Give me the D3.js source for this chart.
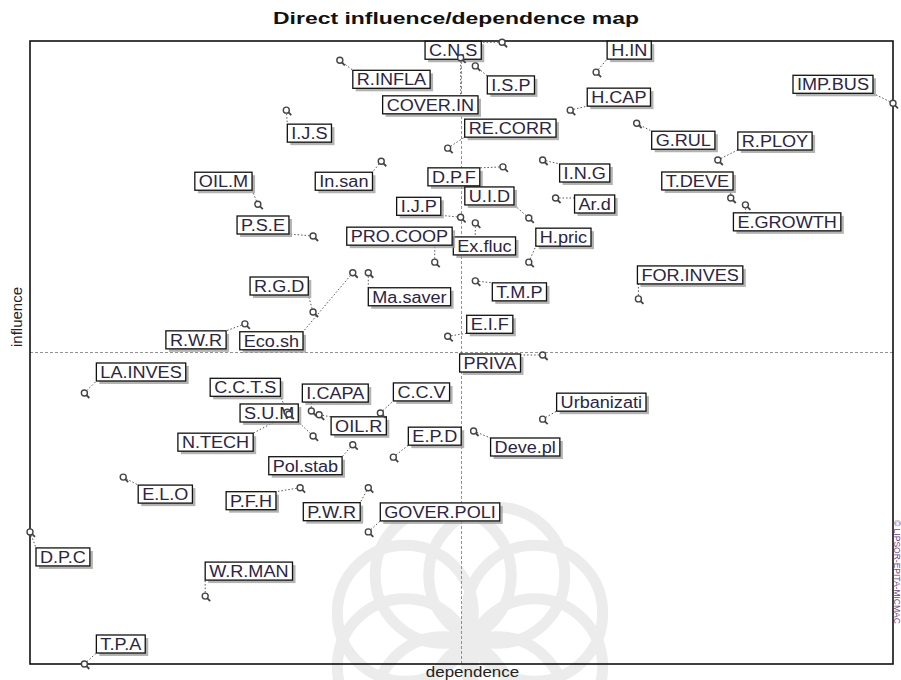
<!DOCTYPE html>
<html>
<head>
<meta charset="utf-8">
<script src="https://cdn.jsdelivr.net/npm/d3@7/dist/d3.min.js"></script>
<style>
  body { margin: 0; background: #fff; }
  svg { display: block; font-family: "Liberation Sans", Arial, sans-serif; }
</style>
</head>
<body>
<svg id="chart" width="901" height="680"></svg>
<script>
// variables of the MICMAC map (scaled 0-100)
const names = ["C.N.S","H.IN","I.S.P","R.INFLA","COVER.IN","H.CAP","G.RUL","R.PLOY","IMP.BUS","I.J.S",
  "RE.CORR","In.san","OIL.M","P.S.E","D.P.F","I.N.G","Ar.d","U.I.D","T.DEVE","E.GROWTH",
  "I.J.P","Ex.fluc","PRO.COOP","H.pric","FOR.INVES","T.M.P","Ma.saver","Eco.sh","R.G.D","R.W.R",
  "E.I.F","PRIVA","LA.INVES","C.C.T.S","N.TECH","S.U.M","I.CAPA","OIL.R","C.C.V","Pol.stab",
  "E.P.D","Deve.pl","Urbanizati","E.L.O","P.F.H","P.W.R","GOVER.POLI","D.P.C","W.R.MAN","T.P.A"];
const dependence = [54.7,65.6,51.6,35.9,49.9,62.6,70.3,79.7,100,29.7,
  48.4,40.7,26.4,32.8,54.8,59.4,60.9,57.8,81.2,82.9,
  49.9,51.6,46.9,57.8,70.5,51.6,39.2,37.4,32.8,24.9,
  48.4,59.4,6.3,29.8,30.0,32.8,32.6,33.5,40.6,37.4,
  42.1,51.4,59.4,10.8,31.3,39.2,39.2,0,20.3,6.3];
const influence = [99.8,95.0,96.0,96.9,97.3,88.9,86.8,80.9,90.0,88.9,
  82.8,80.7,73.8,68.7,79.8,80.9,74.8,71.6,74.8,73.7,
  71.7,70.8,64.5,64.5,58.6,61.5,62.8,62.8,56.5,54.6,
  52.6,49.6,43.5,40.4,40.1,36.6,40.6,40.0,40.3,35.2,
  33.2,37.4,39.3,30.0,28.3,28.3,21.2,21.2,10.9,0];

// label box offsets from each point (layout only)
const labelDx = [-77,11,12,13,-78,17,15,20,-100,1,
  17,-66,-63,-76,-75,17,19,-64,-69,-12,
  -64,-22,-88,7,-1,17,0,-113,-63,-79,
  19,-83,12,-77,-111,-73,-9,12,13,-84,
  15,17,14,15,-74,-65,12,6,0,12];
const labelDy = [-1,-31,10,10,38,-22,8,-28,-28,14,
  -29,11,-32,-20,1,4,-3,-31,-26,8,
  -20,14,-35,-34,-33,2,15,59,-35,7,
  -21,-1,-30,-34,19,-32,-27,2,-30,12,
  -30,7,-26,8,4,15,-29,16,-34,-29];

const data = names.map((n, i) => ({name: n, dep: dependence[i], inf: influence[i], dx: labelDx[i], dy: labelDy[i]}));

const plotLeft = 30, plotRight = 893, plotTop = 41, plotBottom = 664;
const stretch = 1.13;
const boxH = 18;

const svg = d3.select("#chart");

const x = d3.scaleLinear().domain([0, 100]).range([plotLeft, plotRight]);
const y = d3.scaleLinear().domain([0, 100]).range([plotBottom, plotTop]);

// faint watermark rosette
const wm = svg.append("g").attr("fill", "none").attr("stroke", "#ececec").attr("stroke-width", 11);
d3.range(8).forEach(k => {
  const a = k * Math.PI / 4 + Math.PI / 8;
  wm.append("circle")
    .attr("cx", 470 + 70 * Math.cos(a))
    .attr("cy", 640 + 70 * Math.sin(a))
    .attr("r", 68);
});

// title
svg.append("text")
  .attr("x", 456).attr("y", 24)
  .attr("text-anchor", "middle")
  .attr("font-size", 17).attr("font-weight", "bold")
  .attr("textLength", 366).attr("lengthAdjust", "spacingAndGlyphs")
  .attr("fill", "#111")
  .text("Direct influence/dependence map");

// centre lines
svg.append("line")
  .attr("x1", x(0)).attr("x2", x(100)).attr("y1", y(50)).attr("y2", y(50))
  .attr("stroke", "#777").attr("stroke-width", 0.8).attr("stroke-dasharray", "3,2");
svg.append("line")
  .attr("x1", x(50)).attr("x2", x(50)).attr("y1", y(100)).attr("y2", y(0))
  .attr("stroke", "#777").attr("stroke-width", 0.8).attr("stroke-dasharray", "3,2");

// frame
svg.append("rect")
  .attr("x", plotLeft).attr("y", plotTop)
  .attr("width", plotRight - plotLeft).attr("height", plotBottom - plotTop)
  .attr("fill", "none").attr("stroke", "#111").attr("stroke-width", 1.6);

// axis titles
svg.append("text")
  .attr("transform", "translate(22,317) rotate(-90)")
  .attr("text-anchor", "middle").attr("font-size", 15).attr("fill", "#222")
  .text("influence");
svg.append("text")
  .attr("transform", `translate(${x(50) + 11},677) scale(${stretch},1)`)
  .attr("text-anchor", "middle").attr("font-size", 15).attr("fill", "#222")
  .text("dependence");
svg.append("text")
  .attr("transform", "translate(894,520) rotate(90)")
  .attr("font-size", 8.5).attr("fill", "#6a4a8a")
  .text("\u00A9 LIPSOR-EPITA-MICMAC");

// labels
const connLayer = svg.append("g");
const boxLayer = svg.append("g");
const pointLayer = svg.append("g");

data.forEach(d => {
  const px = x(d.dep), py = y(d.inf);
  const bx = px + d.dx, by = py + d.dy;
  const g = boxLayer.append("g").attr("transform", `translate(${bx},${by})`);
  const shadow = g.append("rect").attr("x", 3).attr("y", 3).attr("height", boxH).attr("fill", "#9a9a9a").attr("opacity", 0.75);
  const box = g.append("rect").attr("height", boxH).attr("fill", "#fffffc").attr("stroke", "#111").attr("stroke-width", 1.3);
  const t = g.append("text")
    .attr("transform", `translate(4,15) scale(${stretch},1)`)
    .attr("font-size", 16).attr("fill", "#2a2448")
    .text(d.name);
  const w = t.node().getComputedTextLength() * stretch + 8;
  box.attr("width", w);
  shadow.attr("width", w);

  // dotted connector to the nearest edge of the box
  const cx = Math.max(bx, Math.min(px, bx + w));
  const cy = Math.max(by, Math.min(py, by + boxH));
  connLayer.append("line")
    .attr("x1", px).attr("y1", py).attr("x2", cx).attr("y2", cy)
    .attr("stroke", "#555").attr("stroke-width", 1).attr("stroke-dasharray", "1.5,2");
});

// points
const pts = pointLayer.selectAll("g.pt").data(data).join("g")
  .attr("class", "pt")
  .attr("transform", d => `translate(${x(d.dep)},${y(d.inf)})`);
pts.append("line").attr("x1", 2).attr("y1", 2).attr("x2", 5).attr("y2", 5)
  .attr("stroke", "#444").attr("stroke-width", 1.8);
pts.append("circle").attr("r", 3)
  .attr("fill", "#fff").attr("stroke", "#444").attr("stroke-width", 1.4);
</script>
</body>
</html>
